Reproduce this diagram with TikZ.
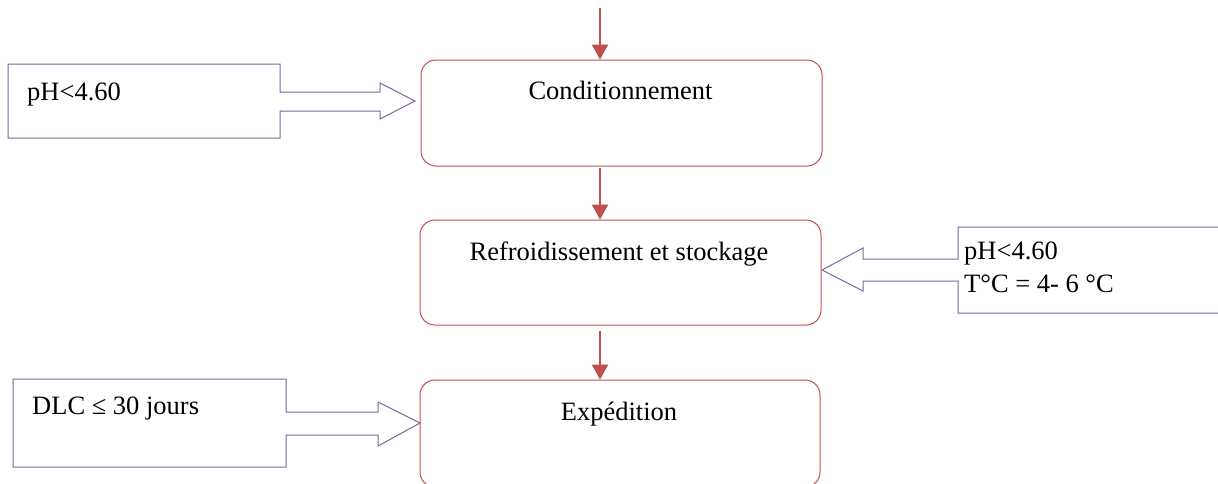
\documentclass[tikz,border=0pt]{standalone}
\usepackage{fontspec}
\setmainfont{Liberation Serif}
\usetikzlibrary{arrows.meta,calc}
\definecolor{stepred}{RGB}{192,80,77}
\definecolor{notepurple}{RGB}{128,100,162}
\tikzset{
  procbox/.style={draw=stepred, line width=1pt, rounded corners=15pt, inner sep=0pt},
  flow/.style={draw=stepred, line width=2.2pt, -{Triangle[width=16pt,length=15pt]}},
  callout/.style={draw=notepurple, line width=1pt, line join=miter},
  txt/.style={font=\fontsize{26.5}{31}\selectfont, inner sep=0pt, anchor=base},
  ltxt/.style={txt, anchor=base west}
}
\begin{document}
\begin{tikzpicture}[x=1pt,y=-1pt]
  \useasboundingbox (0,0) rectangle (1218,483);
  \clip (0,0) rectangle (1218,483);

  % process steps
  \node[procbox, minimum width=401pt, minimum height=106pt] (cond) at (621.5,113) {};
  \node[procbox, minimum width=401pt, minimum height=105pt] (refr) at (620.5,272.5) {};
  \node[procbox, minimum width=400pt, minimum height=107pt] (expe) at (620,433.5) {};

  \node[txt] (tcond) at (620.5,99) {Conditionnement};
  \node[txt] (trefr) at (619,260) {Refroidissement et stockage};
  \node[txt] (texpe) at (619,420) {Expédition};

  % flow between steps
  \coordinate (start) at (600,8);
  \draw[flow] (start) -- (start |- cond.north);
  \draw[flow] ($(cond.south -| start)+(0,1)$) -- (refr.north -| start);
  \draw[flow] ($(refr.south -| start)+(0,5)$) -- (expe.north -| start);

  % condition notes with block arrows
  \draw[callout] (280,92) -- (280,64) -- (8,64) -- (8,138) -- (280,138) -- (280,111)
    -- (380,111) -- (380,119) -- (415,101) -- (380,83) -- (380,92) -- cycle;
  \node[ltxt] (n1) at (27,100) {pH<4.60};

  \draw[callout] (958,259) -- (958,227) -- (1225,227) -- (1225,313) -- (958,313) -- (958,281)
    -- (863,281) -- (863,291) -- (822,270) -- (863,248) -- (863,259) -- cycle;
  \node[ltxt] (n2a) at (964,259) {pH<4.60};
  \node[ltxt] (n2b) at (964,292) {T°C = 4- 6 °C};

  \draw[callout] (286,412) -- (286,379) -- (13,379) -- (13,467) -- (286,467) -- (286,435)
    -- (378,435) -- (378,446) -- (420,423) -- (378,402) -- (378,412) -- cycle;
  \node[ltxt] (n3) at (32,414) {DLC ≤ 30 jours};
\end{tikzpicture}
\end{document}
